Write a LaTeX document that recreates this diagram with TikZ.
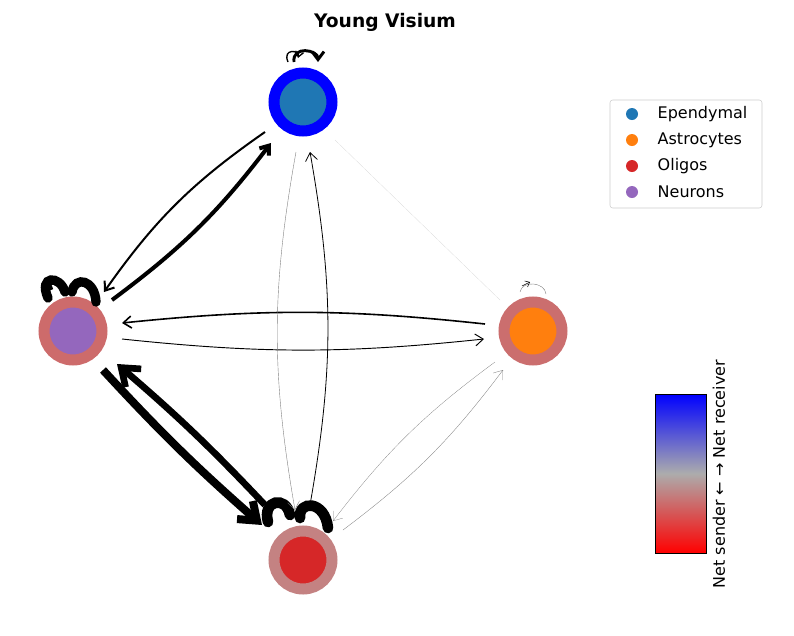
\documentclass[tikz,border=0pt]{standalone}
\usepackage{fontspec}
\setmainfont{DejaVu Sans}
\usetikzlibrary{arrows.meta}
\definecolor{ep}{HTML}{1F77B4}\definecolor{as}{HTML}{FF7F0E}
\definecolor{ol}{HTML}{D62728}\definecolor{ne}{HTML}{9467BD}
\definecolor{rn}{HTML}{CD6B6B}\definecolor{ra}{HTML}{CB6E6E}\definecolor{ro}{HTML}{C48282}
\tikzset{cell/.style={circle,minimum size=58*0.75pt,line width=11*0.75pt,inner sep=0pt},
 e/.style={-{Straight Barb[length=6pt,width=9pt]}},
 lg/.style={font=\fontsize{12}{14}\selectfont,anchor=west}}
\begin{document}
\begin{tikzpicture}[x=0.75pt,y=-0.75pt]
\useasboundingbox (0,0) rectangle (794,636);
\node[font=\bfseries\fontsize{14}{16}\selectfont] (t) at (385,22) {Young Visium};
\node[cell,draw=blue,fill=ep] (E) at (303,102) {};
\node[cell,draw=rn,fill=ne] (N) at (73,331) {};
\node[cell,draw=ra,fill=as] (A) at (533,331) {};
\node[cell,draw=ro,fill=ol] (O) at (303,560) {};
% self loops
\draw[line width=2.2pt,e] (294,62) .. controls (292,45) and (318,50) .. (318,62) ;
\draw[line width=1pt,-{Straight Barb[length=4pt,width=6pt]}] (288,62) .. controls (282,48) and (300,50) .. (298,58);
\draw[line width=7pt,line cap=round] (48,298) .. controls (38,275) and (60,275) .. (65,292);
\draw[line width=7pt,line cap=round] (72,292) .. controls (75,275) and (95,280) .. (96,302);
\draw[line width=5pt] (42,290) -- (52,286);
\draw[line width=0.3pt,gray] (520,292) .. controls (522,280) and (545,282) .. (546,294);
\draw[line width=0.4pt,-{Straight Barb[length=3pt,width=5pt]}] (522,286) -- (530,282);
\draw[line width=8pt,line cap=round] (268,522) .. controls (262,500) and (286,495) .. (290,515);
\draw[line width=8pt,line cap=round] (300,518) .. controls (298,500) and (325,500) .. (328,528);
% edges
\draw[line width=1.5pt,e] (265,132) to[bend right=10] (104,292);
\draw[line width=3pt,e] (112,300) to[bend right=8] (271,143);
\draw[line width=1.2pt,e] (485,324) to[bend right=6] (122,323);
\draw[line width=0.7pt,e] (122,339) to[bend right=6] (484,339);
\draw[line width=6pt,-{Straight Barb[length=12pt,width=18pt]}] (103,370) to[bend right=3] (262,525);
\draw[line width=5pt,-{Straight Barb[length=12pt,width=18pt]}] (265,505) to[bend right=3] (117,364);
\draw[line width=0.3pt,gray,e] (296,152) to[bend right=10] (295,510);
\draw[line width=0.6pt,e] (310,505) to[bend right=10] (310,152);
\draw[line width=0.2pt,gray,e] (495,362) to[bend right=8] (333,521);
\draw[line width=0.25pt,gray,e] (343,530) to[bend right=8] (503,370);
\draw[line width=0.1pt,gray!40] (335,140) -- (500,300);
% legend
\draw[gray!40,rounded corners=2pt,fill=white] (610,100) rectangle (762,208);
\foreach \c/\n/\y in {ep/Ependymal/114,as/Astrocytes/140,ol/Oligos/166,ne/Neurons/192}{
 \fill[\c] (632,\y) circle (6);
 \node[lg] at (653,\y) {\n};}
% colorbar
\shade[top color=blue,bottom color=red,middle color=gray!65] (655,394) rectangle (706,553);
\draw[line width=0.5pt] (655,394) rectangle (706,553);
\node[rotate=90,font=\fontsize{12}{14}\selectfont] (cb) at (719,474) {Net sender ← → Net receiver};
\end{tikzpicture}
\end{document}
